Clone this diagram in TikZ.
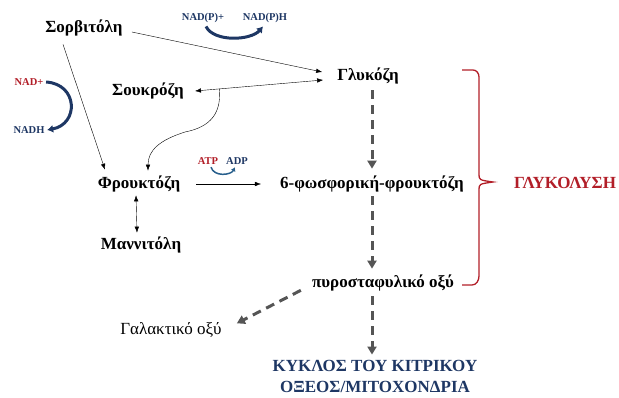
\documentclass[tikz,border=0pt]{standalone}
\usepackage{fontspec}
\setmainfont{Liberation Serif}
\usetikzlibrary{positioning,arrows.meta,calc}
\definecolor{glyred}{RGB}{178,30,40}
\definecolor{krebsblue}{RGB}{30,55,100}
\definecolor{atpblue}{RGB}{40,95,140}
\definecolor{dashgray}{RGB}{85,85,85}
\tikzset{metab/.style = {font=\bfseries\fontsize{17}{21}\selectfont, inner sep=1pt}}
\tikzset{cofac/.style = {font=\bfseries\fontsize{10.5}{12}\selectfont, inner sep=0.5pt}}
\tikzset{conv/.style = {thin, -{Latex[length=6pt,width=4.5pt]}}}
\tikzset{conv2/.style = {thin, {Latex[length=6pt,width=4.5pt]}-{Latex[length=6pt,width=4.5pt]}}}
\tikzset{flow/.style = {dashgray, line width=3pt, dash pattern=on 9pt off 6pt,
    -{Triangle[length=8pt,width=9pt]}}}
\tikzset{swing/.style = {krebsblue, line width=3pt, -{Latex[length=6pt,width=8pt]}}}

\begin{document}
\begin{tikzpicture}[x=1pt,y=-1pt]
      \useasboundingbox (0,0) rectangle (619,398);

      \node[metab] (sorb) at (84,28) {Σορβιτόλη};
      \node[metab] (glu) at (368,76) {Γλυκόζη};
      \node[metab] (sucr) at (148,91) {Σουκρόζη};
      \node[metab] (fruc) at (139,184) {Φρουκτόζη};
      \node[metab] (mann) at (141,245) {Μαννιτόλη};
      \node[metab] (f6p) at (372,184) {6-φωσφορική-φρουκτόζη};
      \node[metab] (pyr) at (383,283) {πυροσταφυλικό οξύ};
      \node[font=\fontsize{17}{21}\selectfont, inner sep=1pt] (lact) at (171,330) {Γαλακτικό οξύ};
      \node[metab, krebsblue, align=center] (tca) at (375,376) {ΚΥΚΛΟΣ ΤΟΥ ΚΙΤΡΙΚΟΥ\\ΟΞΕΟΣ/ΜΙΤΟΧΟΝΔΡΙΑ};
      \node[metab, glyred] (glyc) at (565,183) {ΓΛΥΚΟΛΥΣΗ};

      \node[cofac, krebsblue] (nadp) at (203,18) {NAD(P)+};
      \node[cofac, krebsblue] (nadph) at (265,18) {NAD(P)H};
      \node[cofac, glyred] (nad) at (29,82) {NAD+};
      \node[cofac, krebsblue] (nadh) at (29,130) {NADH};
      \node[cofac, glyred] (atp) at (208,161) {ATP};
      \node[cofac, krebsblue] (adp) at (237,161) {ADP};

      \coordinate (axis) at (372,0);

      % solid conversions
      \draw[conv] ([xshift=8pt,yshift=-4pt]sorb.east) -- ([xshift=-14pt,yshift=4pt]glu.west);
      \draw[conv] ([xshift=-21pt,yshift=-7pt]sorb.south) -- ([xshift=-34pt,yshift=5pt]fruc.north);
      \draw[conv2] ([xshift=10pt]sucr.east) -- ([xshift=-13pt,yshift=-4pt]glu.west);
      \coordinate (split) at ($([xshift=10pt]sucr.east)!0.19!([xshift=-13pt,yshift=-4pt]glu.west)$);
      \draw[conv] (split) .. controls (222,118) and (205,128) .. (185,132)
          .. controls (160,140) and (148,150) .. ([xshift=9pt,yshift=4pt]fruc.north);
      \draw[conv2] ([xshift=-3pt,yshift=-2pt]fruc.south) -- ([xshift=-4pt,yshift=3pt]mann.north);
      \draw[conv] ([xshift=15pt]fruc.east) -- ([xshift=-18pt]f6p.west);

      % cofactors
      \draw[swing] ([xshift=3pt,yshift=-3pt]nadp.south) .. controls +(8,16) and +(-12,14) .. ([xshift=-2pt,yshift=-3pt]nadph.south);
      \draw[swing] ([xshift=2pt]nad.east) .. controls +(32,2) and +(32,-6) .. ([xshift=2pt]nadh.east);
      \draw[atpblue, line width=1.5pt, -{Latex[length=4pt,width=5pt]}] ([xshift=3pt,yshift=-2pt]atp.south) .. controls +(3,10) and +(-4,8) .. ([xshift=-2pt,yshift=-2pt]adp.south);

      % glycolysis
      \draw[flow] ([yshift=-5pt]glu.south -| axis) -- ([yshift=6pt]f6p.north -| axis);
      \draw[flow] ([yshift=-3pt]f6p.south -| axis) -- ([yshift=5pt]pyr.north -| axis);
      \draw[flow] ([yshift=-4pt]pyr.south -| axis) -- ([yshift=4pt]tca.north -| axis);
      \draw[flow] ([xshift=-10pt,yshift=2pt]pyr.south west) -- ([xshift=14pt,yshift=-2pt]lact.north east);

      % brace
      \draw[glyred, line width=1.3pt] (462,70) -- (473,70) to[out=0,in=90] (479,77) -- (479,174)
          .. controls (479,180) .. (493,182) .. controls (479,184) .. (479,190) -- (479,276)
          to[out=-90,in=0] (472,285) -- (462,285);
  \end{tikzpicture}
\end{document}
